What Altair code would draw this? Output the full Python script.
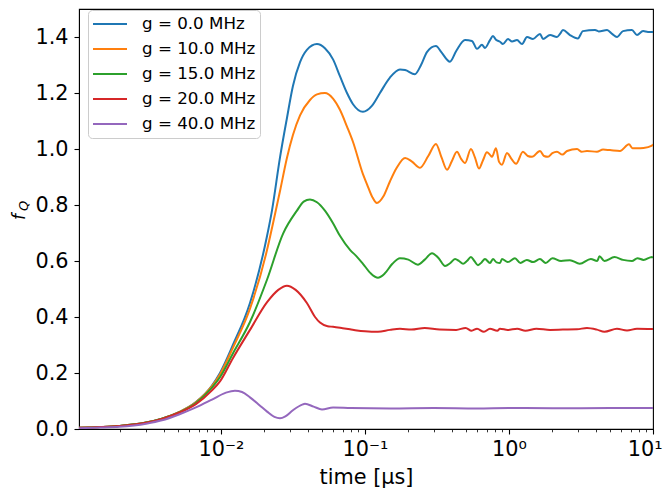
import altair as alt
import pandas as pd

series = ["g = 0.0 MHz", "g = 10.0 MHz", "g = 15.0 MHz", "g = 20.0 MHz", "g = 40.0 MHz"]
colors = ["#1f77b4", "#ff7f0e", "#2ca02c", "#d62728", "#9467bd"]

t_g0 = [0.00103, 0.00145, 0.00196, 0.00302, 0.00389, 0.00511, 0.0067, 0.00866, 0.00984,
        0.0121, 0.0159, 0.0209, 0.0226, 0.0257, 0.0287, 0.0316, 0.0354, 0.0395, 0.0464,
        0.0527, 0.06, 0.067, 0.075, 0.0826, 0.0968, 0.112, 0.127, 0.149, 0.175, 0.19,
        0.222, 0.245, 0.27, 0.311, 0.34, 0.389, 0.43, 0.495, 0.553, 0.6, 0.649, 0.681,
        0.738, 0.774, 0.812, 0.866, 0.908, 0.984, 1.05, 1.137, 1.232, 1.334, 1.468,
        1.642, 1.722, 1.927, 2.154, 2.26, 2.37, 2.65, 3.01, 3.26, 3.96, 4.2, 4.8, 5.2,
        5.62, 6.19, 7.14, 7.74, 8.53, 9.23, 10.0]
f_g0 = [0.004, 0.007, 0.011, 0.023, 0.037, 0.06, 0.096, 0.155, 0.2,
        0.3, 0.45, 0.69, 0.78, 0.97, 1.11, 1.225, 1.31, 1.354, 1.375,
        1.36, 1.32, 1.26, 1.2, 1.16, 1.133, 1.155, 1.2, 1.255, 1.284, 1.282,
        1.267, 1.3, 1.347, 1.368, 1.345, 1.312, 1.35, 1.389, 1.386, 1.358, 1.372, 1.361,
        1.389, 1.404, 1.39, 1.383, 1.375, 1.393, 1.384, 1.389, 1.375, 1.4, 1.393,
        1.411, 1.393, 1.407, 1.4, 1.411, 1.425, 1.407, 1.395, 1.421, 1.425, 1.42, 1.425, 1.411,
        1.4, 1.421, 1.425, 1.407, 1.421, 1.418, 1.418]

t_g10 = [0.00103, 0.00145, 0.00196, 0.00302, 0.00389, 0.00511, 0.0067, 0.00866, 0.00984,
         0.0121, 0.0159, 0.0209, 0.02295, 0.0257, 0.0287, 0.0316, 0.0354, 0.0415, 0.0464,
         0.0527, 0.06, 0.067, 0.075, 0.0826, 0.0968, 0.1033, 0.112, 0.121, 0.134, 0.149,
         0.165, 0.19, 0.212, 0.241, 0.275, 0.311, 0.34, 0.371, 0.4, 0.435, 0.465, 0.495,
         0.544, 0.58, 0.619, 0.66, 0.703, 0.738, 0.762, 0.812, 0.853, 0.894, 0.968, 1.04,
         1.119, 1.25, 1.35, 1.445, 1.642, 1.75, 1.866, 2.0, 2.154, 2.35, 2.53, 2.97, 3.2,
         3.48, 4.08, 4.5, 5.03, 5.9, 6.81, 7.2, 7.74, 8.6, 9.84, 10.0]
f_g10 = [0.004, 0.007, 0.011, 0.023, 0.037, 0.06, 0.095, 0.153, 0.195,
         0.29, 0.43, 0.64, 0.733, 0.85, 0.968, 1.05, 1.12, 1.175, 1.195,
         1.2, 1.18, 1.14, 1.08, 1.025, 0.91, 0.874, 0.83, 0.807, 0.83, 0.884,
         0.93, 0.968, 0.955, 0.933, 0.975, 1.018, 0.97, 0.926, 0.955, 0.99, 0.965, 0.95,
         1.0, 0.97, 0.93, 0.96, 0.988, 0.979, 0.972, 1.003, 0.954, 0.944, 0.986, 0.965,
         0.947, 0.99, 0.975, 0.972, 0.993, 0.975, 0.972, 0.985, 0.99, 0.98, 0.993, 1.0, 0.99,
         0.993, 0.99, 0.998, 0.996, 0.993, 1.017, 1.003, 1.003, 1.004, 1.012, 1.017]

t_g15 = [0.00103, 0.00145, 0.00196, 0.00302, 0.00389, 0.00511, 0.0067, 0.00866, 0.00984,
         0.0121, 0.0159, 0.0209, 0.027, 0.0337, 0.0375, 0.0415, 0.0464, 0.0527, 0.06,
         0.067, 0.0787, 0.088, 0.0968, 0.11, 0.123, 0.137, 0.155, 0.175, 0.2, 0.233, 0.26,
         0.292, 0.325, 0.36, 0.39, 0.422, 0.45, 0.48, 0.51, 0.544, 0.575, 0.609, 0.645,
         0.681, 0.738, 0.774, 0.82, 0.866, 0.894, 0.98, 1.1, 1.2, 1.33, 1.47, 1.64, 1.8,
         2.0, 2.3, 2.65, 3.1, 3.7, 4.1, 4.25, 4.6, 5.4, 6.19, 7.14, 7.8, 8.6, 9.84, 10.0]
f_g15 = [0.004, 0.007, 0.011, 0.023, 0.037, 0.059, 0.093, 0.148, 0.185,
         0.27, 0.382, 0.534, 0.698, 0.78, 0.812, 0.82, 0.81, 0.78, 0.735,
         0.69, 0.64, 0.615, 0.59, 0.555, 0.54, 0.555, 0.59, 0.61, 0.605, 0.587, 0.605,
         0.628, 0.61, 0.582, 0.592, 0.607, 0.6, 0.59, 0.6, 0.614, 0.6, 0.585, 0.595,
         0.607, 0.593, 0.607, 0.595, 0.593, 0.607, 0.596, 0.61, 0.593, 0.604, 0.596, 0.607, 0.593,
         0.61, 0.6, 0.603, 0.59, 0.607, 0.6, 0.617, 0.6, 0.614, 0.604, 0.6, 0.61, 0.604, 0.614, 0.612]

t_g20 = [0.00103, 0.00145, 0.00196, 0.00302, 0.00389, 0.00511, 0.0067, 0.00866, 0.00984,
         0.0121, 0.0159, 0.0209, 0.025, 0.0287, 0.033, 0.0395, 0.045, 0.0487, 0.055,
         0.06, 0.07, 0.0787, 0.088, 0.1, 0.123, 0.149, 0.175, 0.21, 0.26, 0.33, 0.43,
         0.5, 0.55, 0.6, 0.67, 0.738, 0.83, 0.866, 0.98, 1.14, 1.3, 1.55, 1.93, 2.37,
         2.97, 3.48, 4.08, 4.6, 5.62, 6.6, 7.74, 10.0]
f_g20 = [0.004, 0.007, 0.011, 0.022, 0.036, 0.058, 0.089, 0.138, 0.17,
         0.253, 0.354, 0.453, 0.497, 0.512, 0.497, 0.45, 0.4, 0.38, 0.367,
         0.365, 0.36, 0.356, 0.352, 0.349, 0.347, 0.354, 0.358, 0.355, 0.361, 0.355, 0.354,
         0.361, 0.351, 0.358, 0.347, 0.358, 0.351, 0.358, 0.354, 0.358, 0.351, 0.358, 0.354, 0.355,
         0.356, 0.361, 0.355, 0.347, 0.358, 0.352, 0.358, 0.357]

t_g40 = [0.00103, 0.00145, 0.00196, 0.00302, 0.00389, 0.00511, 0.0067, 0.00866, 0.01083,
         0.0125, 0.014, 0.0159, 0.0185, 0.0209, 0.0235, 0.0257, 0.028, 0.0316, 0.037,
         0.0383, 0.044, 0.0503, 0.06, 0.08, 0.15, 0.3, 0.6, 1.0, 2.0, 5.0, 10.0]
f_g40 = [0.003, 0.005, 0.008, 0.019, 0.031, 0.052, 0.077, 0.105, 0.13,
         0.137, 0.132, 0.113, 0.085, 0.062, 0.043, 0.038, 0.045, 0.067, 0.088,
         0.09, 0.08, 0.07, 0.077, 0.075, 0.0735, 0.075, 0.0735, 0.075, 0.074, 0.075, 0.075]

x_major = [0.01, 0.1, 1, 10]
x_minor = [0.002, 0.003, 0.004, 0.005, 0.006, 0.007, 0.008, 0.009,
           0.02, 0.03, 0.04, 0.05, 0.06, 0.07, 0.08, 0.09,
           0.2, 0.3, 0.4, 0.5, 0.6, 0.7, 0.8, 0.9,
           2, 3, 4, 5, 6, 7, 8, 9]
y_ticks = [0.0, 0.2, 0.4, 0.6, 0.8, 1.0, 1.2, 1.4]
ylabel_parts = ["f", "Q"]

rows = []
for name, ts, fs in zip(series, [t_g0, t_g10, t_g15, t_g20, t_g40],
                        [f_g0, f_g10, f_g15, f_g20, f_g40]):
    for t, f in zip(ts, fs):
        rows.append({"t": t, "f": f, "g": name})
df = pd.DataFrame(rows)

is_major = "datum.value == 0.01 || datum.value == 0.1 || datum.value == 1 || datum.value == 10"
label_expr = ("datum.value == 0.01 ? '10\u207b\u00b2' : datum.value == 0.1 ? '10\u207b\u00b9' : "
              "datum.value == 1 ? '10\u2070' : datum.value == 10 ? '10\u00b9' : ''")

FS = 20.8

lines = alt.Chart(df).mark_line(strokeWidth=2, clip=True, interpolate="monotone").encode(
    x=alt.X("t:Q",
            scale=alt.Scale(type="log", domain=[0.001033, 10], nice=False, zero=False),
            axis=alt.Axis(values=sorted(x_major + x_minor), labelExpr=label_expr,
                          tickSize={"condition": {"test": is_major, "value": 5}, "value": 2.8},
                          tickWidth={"condition": {"test": is_major, "value": 1.1}, "value": 0.8},
                          labelFontSize=FS, labelPadding=5, labelFlush=True,
                          labelFlushOffset=9,
                          labelOverlap=False, grid=False, title="time [\u03bcs]",
                          titleFontSize=FS, titleFontWeight="normal",
                          titleBaseline="alphabetic", titleY=54,
                          domainColor="black", tickColor="black",
                          labelColor="black", titleColor="black")),
    y=alt.Y("f:Q",
            scale=alt.Scale(domain=[0, 1.5], nice=False),
            axis=alt.Axis(values=y_ticks, format=".1f", labelFontSize=FS, tickSize=5,
                          tickWidth=1.1, labelPadding=6, title=None, grid=False,
                          domainColor="black", tickColor="black", labelColor="black")),
    color=alt.Color("g:N",
                    scale=alt.Scale(domain=series, range=colors),
                    sort=series,
                    legend=alt.Legend(title=None, orient="none", legendX=9, legendY=1,
                                      symbolType="stroke", symbolSize=1156,
                                      symbolStrokeWidth=2, clipHeight=20, rowPadding=5,
                                      padding=4, labelOffset=14, labelFontSize=16.7,
                                      labelColor="black", strokeColor="#cccccc",
                                      fillColor="rgba(255,255,255,0.8)", cornerRadius=4)),
    detail="g:N",
)

f_text = alt.Chart(pd.DataFrame({"s": [ylabel_parts[0]]})).mark_text(
    angle=270, align="center", baseline="alphabetic", fontSize=17, fontStyle="italic",
    color="black"
).encode(x=alt.value(-54), y=alt.value(208), text="s:N")

q_text = alt.Chart(pd.DataFrame({"s": [ylabel_parts[1]]})).mark_text(
    angle=270, align="center", baseline="alphabetic", fontSize=13, fontStyle="italic",
    color="black"
).encode(x=alt.value(-51), y=alt.value(197), text="s:N")

chart = alt.layer(lines, f_text, q_text).properties(
    width=574, height=420,
    autosize=alt.AutoSizeParams(type="none"),
    padding={"left": 71, "top": 1, "right": 10, "bottom": 62},
).configure(font="DejaVu Sans").configure_view(stroke="black", strokeWidth=1.1)

chart.save("out.html", embed_options={"renderer": "svg", "actions": False})
